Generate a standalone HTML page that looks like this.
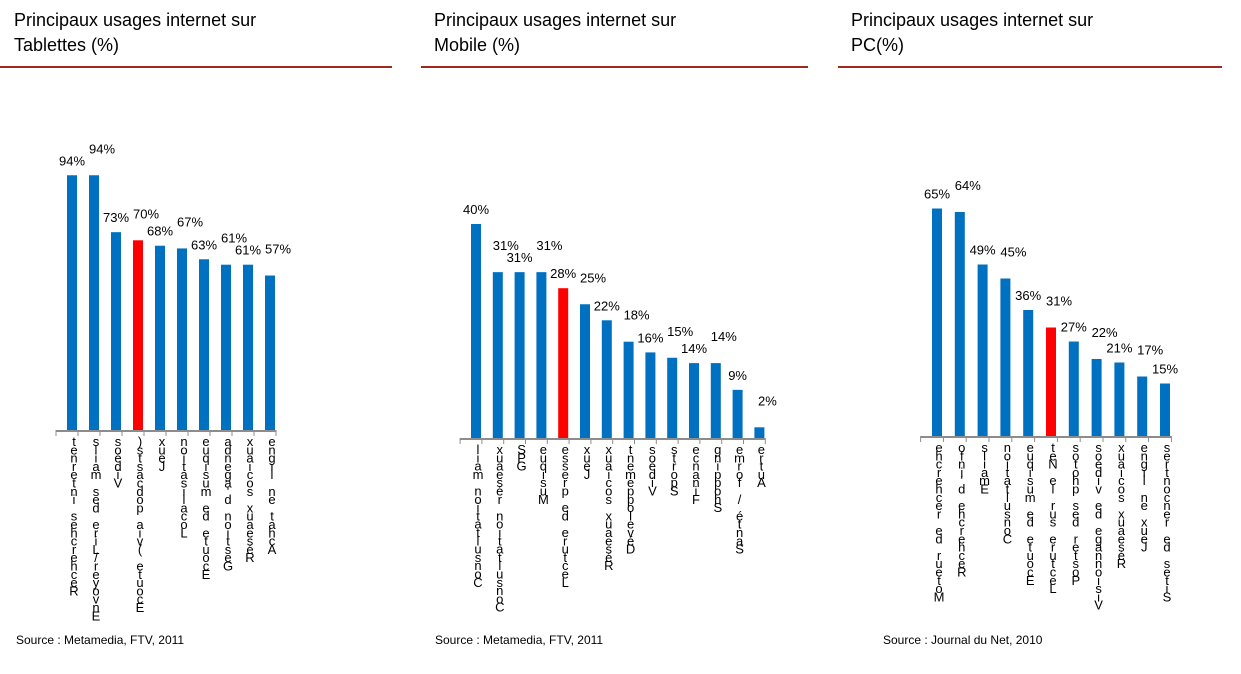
<!DOCTYPE html>
<html><head><meta charset="utf-8"><style>
body{margin:0;width:1241px;height:674px;background:#fff;font-family:"Liberation Sans",sans-serif;position:relative;overflow:hidden}
.t{position:absolute;font-size:18px;line-height:25px;color:#000}
.rule{position:absolute;height:2px;background:#a0281e}
.src{position:absolute;font-size:12px;top:633px}
svg{position:absolute;left:0;top:0}
</style></head><body>
<div class="t" style="left:14px;top:8px">Principaux usages internet sur<br>Tablettes (%)</div>
<div class="t" style="left:434px;top:8px">Principaux usages internet sur<br>Mobile (%)</div>
<div class="t" style="left:851px;top:8px">Principaux usages internet sur<br>PC(%)</div>
<div class="rule" style="left:0;width:392px;top:66px"></div>
<div class="rule" style="left:421px;width:387px;top:66px"></div>
<div class="rule" style="left:838px;width:384px;top:66px"></div>
<div class="src" style="left:16px">Source : Metamedia, FTV, 2011</div>
<div class="src" style="left:435px">Source : Metamedia, FTV, 2011</div>
<div class="src" style="left:883px">Source : Journal du Net, 2010</div>
<svg id="s" width="1241" height="674"></svg>
<script>
const tabCats=["Recherches internet","Envoyer/Lire des mails","Vidéos","Ecoute (via podcasts)","Jeux","Localisation","Ecoute de musique","Gestion d'agenda","Réseaux sociaux","Achat en ligne"];
const tabVals=[94,94,73,70,68,67,63,61,61,57];
const tabRed=3;
const mobCats=["Consultation mail","Consultation réseaux","GPS","Musique","Lecture de presse","Jeux","Réseaux sociaux","Développement","Vidéos","Sports","Finance","Shopping","Santé / forme","Autre"];
const mobVals=[40,31,31,31,28,25,22,18,16,15,14,14,9,2];
const mobRed=4;
const pcCats=["Moteur de recherche","Recherche d'info","Emails","Consultation","Ecoute de musique","Lecture sur le Net","Poster des photos","Visionnage de vidéos","Réseaux sociaux","Jeux en ligne","Sites de rencontres"];
const pcVals=[65,64,49,45,36,31,27,22,21,17,15];
const pcRed=5;
const NS="http://www.w3.org/2000/svg";
const svg=document.getElementById('s');
function mk(tag,attrs){const e=document.createElementNS(NS,tag);for(const k in attrs)e.setAttribute(k,attrs[k]);svg.appendChild(e);return e;}
function chart(id,cats,vals,red,x0,pitch,base,scale){
  const xs=i=>x0+i*pitch;
  const ys=v=>base-v*scale;
  const ax=mk('line',{x1:x0-pitch/2,x2:x0+(cats.length-0.5)*pitch,y1:base+1,y2:base+1,stroke:'#8c8c8c','stroke-width':2});
  
  
  for(let i=0;i<=cats.length;i++){
    const tk=mk('line',{x1:x0+(i-0.5)*pitch,x2:x0+(i-0.5)*pitch,y1:base,y2:base+6,stroke:'#8c8c8c','stroke-width':1});
    
    
  }
  cats.forEach((c,i)=>{
    const cx=xs(i)+5;
    const b=mk('rect',{x:xs(i),y:ys(vals[i]),width:10,height:vals[i]*scale,fill:i===red?'#ff0000':'#0070c0'});
    
    
    const dy=(i%2===0)?10:22;
    const v=mk('text',{x:cx+(i%2===0?0:8),y:ys(vals[i])-dy,'font-size':13,'text-anchor':'middle','font-family':'Liberation Sans'});
    v.textContent=vals[i]+'%';
    
    
    const t=mk('text',{x:cx+2,y:base+14,'font-size':13,'text-anchor':'middle','font-family':'Liberation Sans'});
    
    
    const chars=c.split('').reverse();
    chars.forEach((ch,k)=>{const s=document.createElementNS(NS,'tspan');s.setAttribute('x',cx+2);s.setAttribute('y',base+16+k*8.3);s.textContent=ch;t.appendChild(s);});
  });
}
chart('tablettes',tabCats,tabVals,tabRed,67,22,430,2.71);
chart('mobile',mobCats,mobVals,mobRed,471,21.8,438,5.35);
chart('pc',pcCats,pcVals,pcRed,932,22.8,436,3.5);
</script>
</body></html>
